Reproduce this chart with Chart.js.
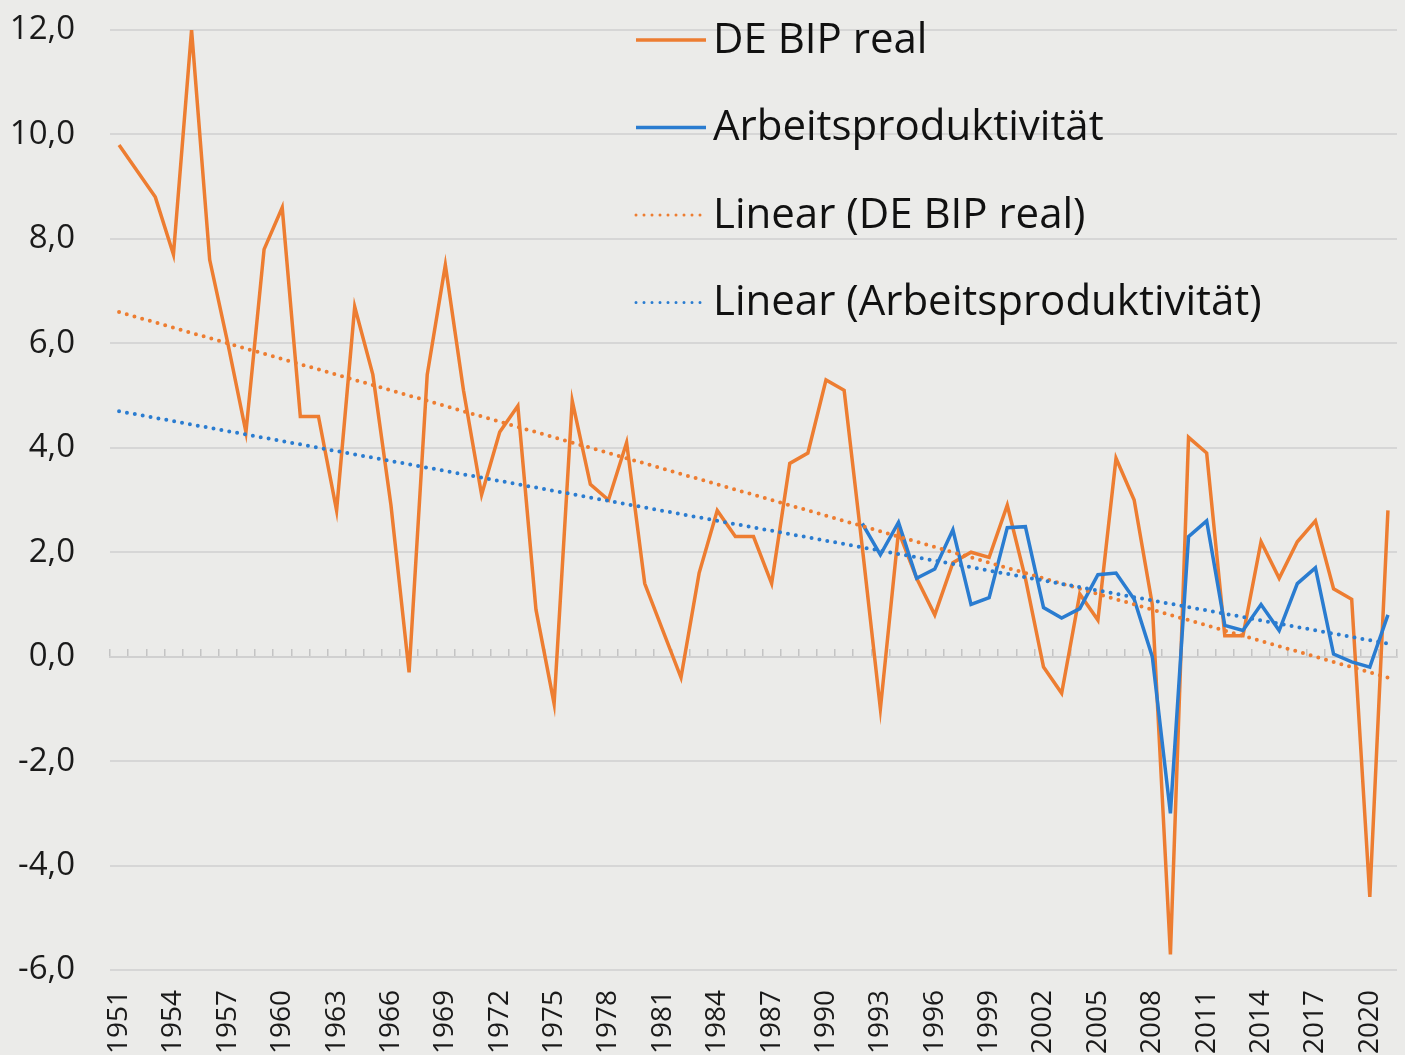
<!DOCTYPE html>
<html>
<head>
<meta charset="utf-8">
<script src="https://cdn.jsdelivr.net/npm/chart.js@4/dist/chart.umd.min.js"></script>
<style>
  body { margin: 0; background: #ebebe9; }
  #wrap { width: 1405px; height: 1055px; }
</style>
</head>
<body>
<div id="wrap"><canvas id="bip-chart" width="1405" height="1055"></canvas></div>
<script>
const years = [
  1951, 1952, 1953, 1954, 1955, 1956, 1957, 1958, 1959, 1960,
  1961, 1962, 1963, 1964, 1965, 1966, 1967, 1968, 1969, 1970,
  1971, 1972, 1973, 1974, 1975, 1976, 1977, 1978, 1979, 1980,
  1981, 1982, 1983, 1984, 1985, 1986, 1987, 1988, 1989, 1990,
  1991, 1992, 1993, 1994, 1995, 1996, 1997, 1998, 1999, 2000,
  2001, 2002, 2003, 2004, 2005, 2006, 2007, 2008, 2009, 2010,
  2011, 2012, 2013, 2014, 2015, 2016, 2017, 2018, 2019, 2020, 2021
]

// DE BIP real, Veraenderung ggue. Vorjahr in %
const bipReal = [
  9.8, 9.3, 8.8, 7.7, 12.0, 7.6, 6.0, 4.3, 7.8, 8.6,
  4.6, 4.6, 2.8, 6.7, 5.4, 2.9, -0.3, 5.4, 7.5, 5.1,
  3.1, 4.3, 4.8, 0.9, -0.9, 4.9, 3.3, 3.0, 4.1, 1.4,
  0.5, -0.4, 1.6, 2.8, 2.3, 2.3, 1.4, 3.7, 3.9, 5.3,
  5.1, 2.1, -1.0, 2.4, 1.5, 0.8, 1.8, 2.0, 1.9, 2.9,
  1.5, -0.2, -0.7, 1.2, 0.7, 3.8, 3.0, 1.0, -5.7, 4.2,
  3.9, 0.4, 0.4, 2.2, 1.5, 2.2, 2.6, 1.3, 1.1, -4.6, 2.8
]

// Arbeitsproduktivitaet, erst ab 1992
const prodStart = 1992
const prodValues = [
  2.55, 1.95, 2.57, 1.5, 1.68, 2.43, 1.0, 1.13, 2.47, 2.49,
  0.94, 0.74, 0.92, 1.57, 1.6, 1.1, 0.0, -3.0, 2.3, 2.6,
  0.6, 0.5, 1.0, 0.5, 1.4, 1.7, 0.05, -0.1, -0.2, 0.8
]

// trend lines, value at first and last year
const trendBip = [6.6, -0.4]
const trendProd = [4.7, 0.25]

const yTicks = { min: -6, max: 12, step: 2 }

const orange = '#ed7d31'
const blue = '#2a7cd0'
const font = '"Open Sans", "DejaVu Sans", sans-serif'

const prod = years.map(y => y < prodStart ? null : prodValues[y - prodStart])
const endsOnly = pair => years.map((y, i) => i == 0 ? pair[0] : (i == years.length - 1 ? pair[1] : null))

// legend drawn inside the plot area, stacked vertically
const insideLegend = {
  id: 'insideLegend',
  afterDatasetsDraw(chart) {
    const ctx = chart.ctx
    const x0 = 636, lineLen = 70, rowY = 40, rowGap = 87.5
    ctx.save()
    chart.data.datasets.forEach((ds, i) => {
      const y = rowY + i * rowGap
      ctx.beginPath()
      ctx.strokeStyle = ds.borderColor
      ctx.lineWidth = ds.legendWidth
      ctx.lineCap = ds.borderCapStyle || 'butt'
      ctx.setLineDash(ds.borderDash || [])
      ctx.moveTo(x0, y)
      ctx.lineTo(x0 + lineLen, y)
      ctx.stroke()
      ctx.setLineDash([])
      ctx.fillStyle = '#111'
      ctx.font = '42px ' + font
      ctx.textBaseline = 'middle'
      ctx.textAlign = 'left'
      ctx.fillText(ds.label, x0 + lineLen + 7, y + 1)
    })
    ctx.restore()
  }
}

const noPad = s => { s.paddingLeft = 0; s.paddingRight = 0; s.paddingTop = 0; s.paddingBottom = 0 }

const data = {
  labels: years,
  datasets: [{
    label: 'DE BIP real',
    data: bipReal,
    borderColor: orange,
    borderWidth: 3.5,
    legendWidth: 3.5,
    pointRadius: 0,
    order: 4
  }, {
    label: 'Arbeitsproduktivität',
    data: prod,
    borderColor: blue,
    borderWidth: 3.5,
    legendWidth: 3.5,
    pointRadius: 0,
    order: 3
  }, {
    label: 'Linear (DE BIP real)',
    data: endsOnly(trendBip),
    borderColor: orange,
    borderWidth: 4,
    legendWidth: 3,
    borderDash: [0, 8],
    borderCapStyle: 'round',
    spanGaps: true,
    pointRadius: 0,
    order: 2
  }, {
    label: 'Linear (Arbeitsproduktivität)',
    data: endsOnly(trendProd),
    borderColor: blue,
    borderWidth: 4,
    legendWidth: 3,
    borderDash: [0, 8],
    borderCapStyle: 'round',
    spanGaps: true,
    pointRadius: 0,
    order: 1
  }]
}

const config = {
  type: 'line',
  data: data,
  options: {
    responsive: false,
    animation: false,
    layout: { padding: { top: 30, right: 8, left: 0, bottom: 0 } },
    plugins: {
      legend: { display: false },
      tooltip: { enabled: false }
    },
    scales: {
      x: {
        offset: true,
        grid: { display: false, drawTicks: false },
        border: { display: false },
        ticks: {
          autoSkip: false,
          maxRotation: 90,
          minRotation: 90,
          padding: 20,
          color: '#1a1a1a',
          font: { family: font, size: 28 },
          callback: function (val, idx) {
            return (years[idx] - years[0]) % 3 == 0 ? String(years[idx]) : ''
          }
        },
        afterFit: s => { s.height = 85; noPad(s) }
      },
      x2: {
        type: 'category',
        offset: true,
        position: { y: 0 },
        grid: { drawOnChartArea: false, drawTicks: true, tickLength: -9, color: '#c4c4c4', lineWidth: 1.5, offset: true },
        border: { display: true, color: '#d0d0d0', width: 2 },
        ticks: { display: false, autoSkip: false },
        afterFit: noPad
      },
      y: {
        min: yTicks.min,
        max: yTicks.max,
        grid: { color: '#d6d6d6', lineWidth: 2, drawTicks: false },
        border: { display: false },
        ticks: {
          stepSize: yTicks.step,
          padding: 35,
          color: '#1a1a1a',
          font: { family: font, size: 33 },
          callback: v => v.toFixed(1).replace('.', ',')
        },
        afterFit: s => { s.width = 110; noPad(s) }
      }
    }
  },
  plugins: [insideLegend]
}

const bipChart = new Chart(document.getElementById('bip-chart').getContext('2d'), config)
</script>
</body>
</html>
